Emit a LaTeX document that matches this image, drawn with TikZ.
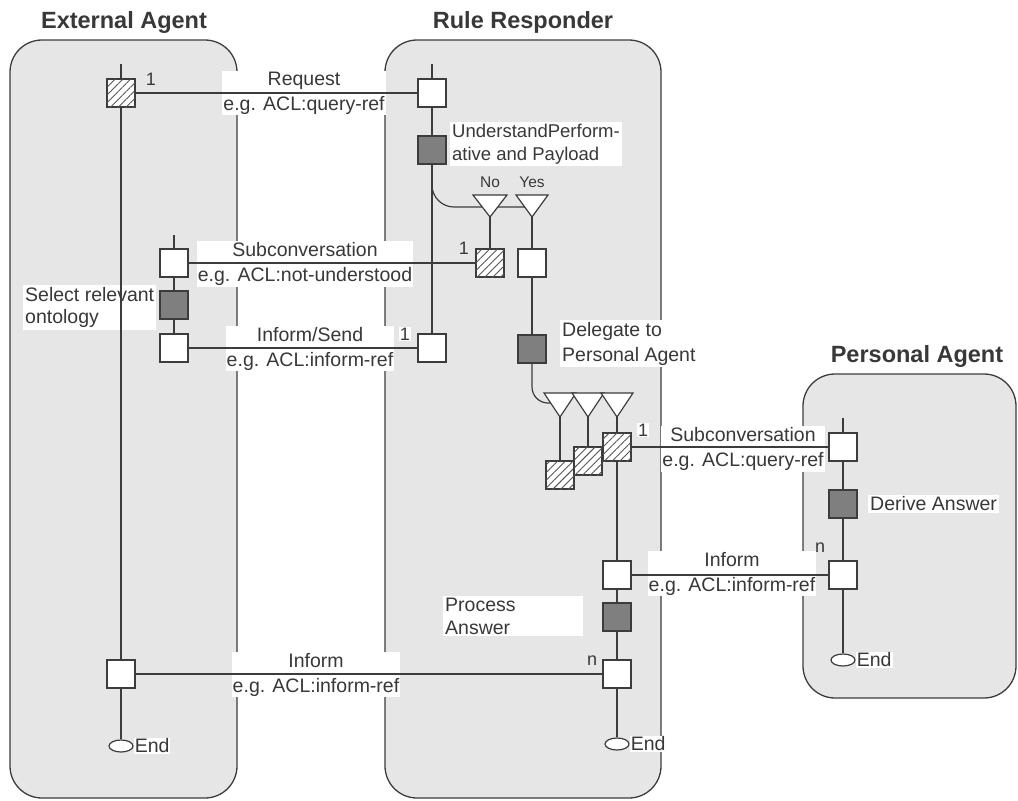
\documentclass[tikz,border=0pt]{standalone}
\usepackage{fontspec}
\setmainfont{Liberation Sans}
\usetikzlibrary{patterns.meta,shapes.geometric}
\definecolor{linec}{HTML}{3C3C3C}
\definecolor{contf}{HTML}{E6E6E6}
\definecolor{darkf}{HTML}{7F7F7F}
\definecolor{textc}{HTML}{383838}
\definecolor{hatchc}{HTML}{555555}
\begin{document}
\begin{tikzpicture}[x=1pt,y=-1pt,
  container/.style={draw=linec,fill=contf,line width=1.3pt,rounded corners=32pt},
  title/.style={font=\fontsize{23.5}{28}\selectfont\bfseries,text=textc},
  seg/.style={draw=linec,line width=1.2pt},
  conn/.style={draw=linec,line width=1.2pt},
  act/.style={draw=linec,line width=1.2pt,fill=white,minimum size=28pt,inner sep=0pt},
  dact/.style={act,fill=darkf},
  hact/.style={act,postaction={pattern={Lines[angle=45,distance=5.5pt,line width=0.9pt]},pattern color=hatchc}},
  endnode/.style={ellipse,draw=linec,line width=1.2pt,fill=white,minimum width=24pt,minimum height=12pt,inner sep=0pt},
  tri/.style={draw=linec,line width=1.2pt,fill=white,line join=miter},
  lab/.style={font=\fontsize{19.5}{25}\selectfont,text=textc,fill=white,inner sep=1pt,align=center},
  llab/.style={font=\fontsize{19.5}{22.5}\selectfont,text=textc,fill=white,inner sep=2pt,align=left},
  small/.style={font=\fontsize{18}{21}\selectfont,text=textc,inner sep=1pt},
  yn/.style={font=\fontsize{15.5}{18}\selectfont,text=textc,inner sep=1pt}
]
\useasboundingbox (0,0) rectangle (1018,801);

% containers
\draw[container] (10,40) rectangle (237,798);
\draw[container] (385,40) rectangle (661,798);
\draw[container] (803,374) rectangle (1016,698);

% titles
\node[title] (t1) at (124,22) {External Agent};
\node[title] (t2) at (523,22) {Rule Responder};
\node[title] (t3) at (917,356) {Personal Agent};

% free ends
\coordinate (exttop) at (121,64);
\coordinate (exsubtop) at (174,235);
\coordinate (rrtop) at (432,64);
\coordinate (patop) at (843,418);
\coordinate (yesc) at (532,207);
\coordinate (noapex) at (490,217);
\coordinate (yesapex) at (532,217);
\coordinate (t1c) at (560,403);
\coordinate (t1apex) at (560,417);
\coordinate (t2apex) at (588,417);
\coordinate (t3apex) at (617,417);

% activity boxes
\node[hact] (extreq) at (121,93) {};
\node[act] (extinf) at (121,674) {};
\node[endnode] (extend) at (121,746) {};

\node[act] (exsub) at (174,263) {};
\node[dact] (exsel) at (174,305) {};
\node[act] (exsend) at (174,348) {};

\node[act] (rrreq) at (432,93) {};
\node[dact] (rrund) at (432,150) {};
\node[act] (rrsend) at (432,348) {};
\node[hact] (rrno) at (490,263) {};
\node[act] (rryes) at (532,263) {};
\node[dact] (rrdel) at (532,349) {};
\node[hact] (rrh1) at (560,475) {};
\node[hact] (rrh2) at (588,461) {};
\node[hact] (rrh3) at (617,447) {};
\node[act] (rrinf) at (617,575) {};
\node[dact] (rrproc) at (617,617) {};
\node[act] (rrans) at (617,674) {};
\node[endnode] (rrend) at (617,744) {};

\node[act] (pasub) at (843,447) {};
\node[dact] (paderive) at (843,504) {};
\node[act] (painf) at (843,575) {};
\node[endnode] (paend) at (843,660) {};

% labels
\node[lab] (lreq) at (304,93) {Request\\e.g. ACL:query-ref};
\node[lab] (lsub) at (305,264) {Subconversation\\e.g. ACL:not-understood};
\node[lab] (lsend) at (310,348.5) {Inform/Send\\e.g. ACL:inform-ref};
\node[lab] (lpasub) at (743,449) {Subconversation\\e.g. ACL:query-ref};
\node[lab] (lpainf) at (732,573.5) {Inform\\e.g. ACL:inform-ref};
\node[lab] (lbot) at (316,674.5) {Inform\\e.g. ACL:inform-ref};

\node[llab,anchor=north west] (lsel) at (23,285) {Select relevant\\ontology};
\node[llab,anchor=north west,font=\fontsize{18.5}{23}\selectfont] (lund) at (450,122) {UnderstandPerform-\\ative and Payload};
\node[llab,anchor=north west,font=\fontsize{19.5}{25}\selectfont] (ldel) at (560,320) {Delegate to\\Personal Agent};
\node[llab,anchor=north west,text width=136pt] (lproc) at (443,596) {Process\\Answer};
\node[llab,anchor=west] (lder) at (868,504) {Derive Answer};
\node[llab,anchor=west,inner sep=1pt] (e1) at (extend.east) {End};
\node[llab,anchor=west,inner sep=1pt] (e2) at (rrend.east) {End};
\node[llab,anchor=west,inner sep=1pt] (e3) at (paend.east) {End};

\node[small] (n1) at (151,79) {1};
\node[small] (n2) at (464,248) {1};
\node[small,fill=white] (n3) at (405,334) {1};
\node[small,fill=white] (n4) at (643,430) {1};
\node[small] (n5) at (820,548) {n};
\node[small] (n6) at (592,661) {n};
\node[yn] (lno) at (490,182) {No};
\node[yn] (lyes) at (532,182) {Yes};

% lifeline segments
\draw[seg] (exttop) -- (extreq.north);
\draw[seg] (extreq.south) -- (extinf.north);
\draw[seg] (extinf.south) -- (extend.north);
\draw[seg] (exsubtop) -- (exsub.north);
\draw[seg] (exsub.south) -- (exsel.north);
\draw[seg] (exsel.south) -- (exsend.north);
\draw[seg] (rrtop) -- (rrreq.north);
\draw[seg] (rrreq.south) -- (rrund.north);
\draw[seg] (rrund.south) -- (rrsend.north);
\draw[seg,rounded corners=22pt] (rrund.south) |- (yesc);
\draw[seg] (noapex) -- (rrno.north);
\draw[seg] (yesapex) -- (rryes.north);
\draw[seg] (rryes.south) -- (rrdel.north);
\draw[seg,rounded corners=16pt] (rrdel.south) |- (t1c);
\draw[seg] (t1apex) -- (rrh1.north);
\draw[seg] (t2apex) -- (rrh2.north);
\draw[seg] (t3apex) -- (rrh3.north);
\draw[seg] (rrh3.south) -- (rrinf.north);
\draw[seg] (rrinf.south) -- (rrproc.north);
\draw[seg] (rrproc.south) -- (rrans.north);
\draw[seg] (rrans.south) -- (rrend.north);
\draw[seg] (patop) -- (pasub.north);
\draw[seg] (pasub.south) -- (paderive.north);
\draw[seg] (paderive.south) -- (painf.north);
\draw[seg] (painf.south) -- (paend.north);

% branch triangles
\draw[tri] (473,195) -- (507,195) -- (noapex) -- cycle;
\draw[tri] (516,195) -- (548,195) -- (yesapex) -- cycle;
\draw[tri] (544,393) -- (576,393) -- (t1apex) -- cycle;
\draw[tri] (572,393) -- (604,393) -- (t2apex) -- cycle;
\draw[tri] (601,393) -- (633,393) -- (t3apex) -- cycle;

% message connectors
\draw[conn] (extreq.east) -- (rrreq.west);
\draw[conn] (exsub.east) -- (rrno.west);
\draw[conn] (exsend.east) -- (rrsend.west);
\draw[conn] (rrh3.east) -- (pasub.west);
\draw[conn] (rrinf.east) -- (painf.west);
\draw[conn] (extinf.east) -- (rrans.west);
\end{tikzpicture}
\end{document}
